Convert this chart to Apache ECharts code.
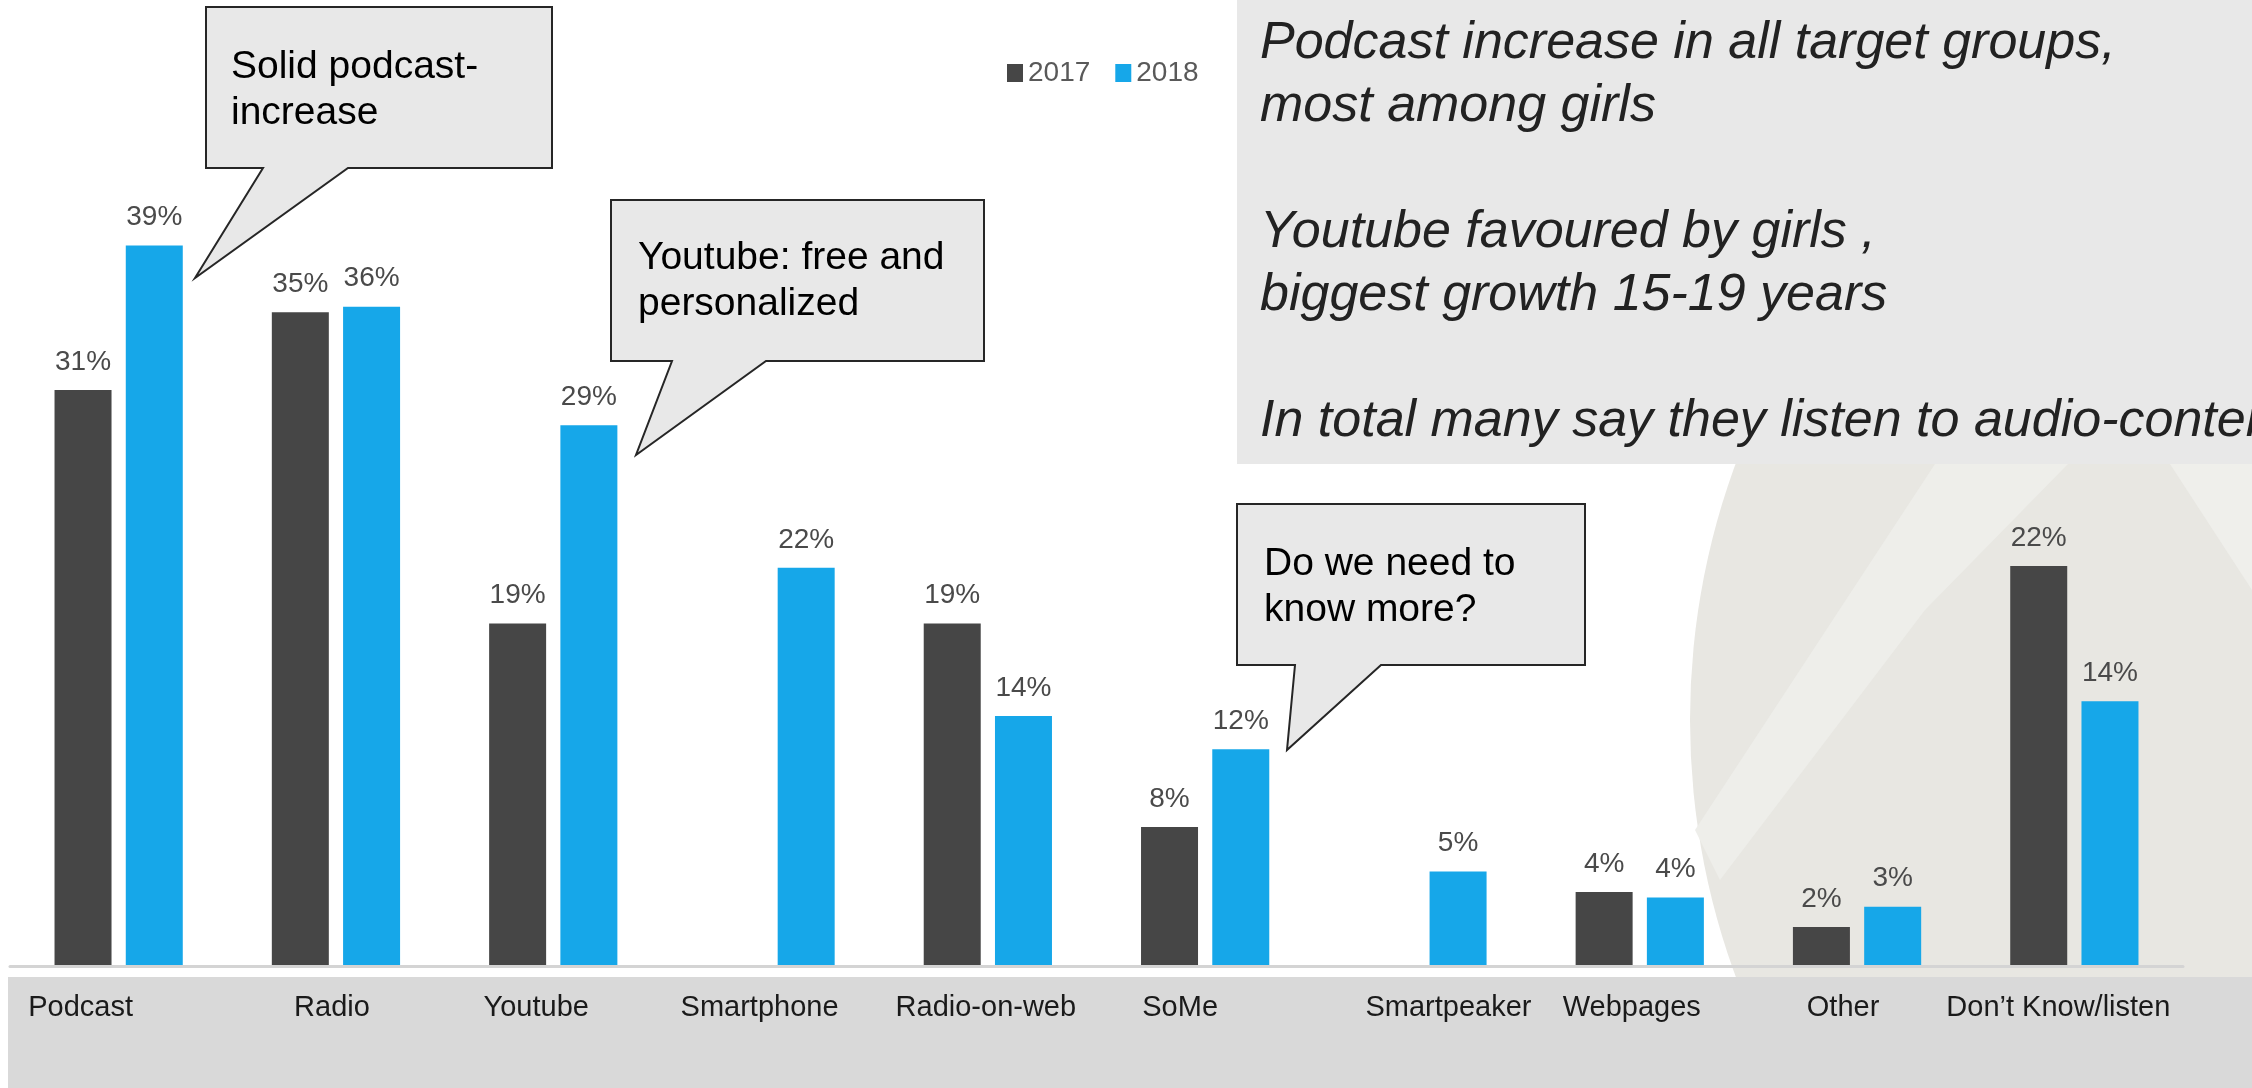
<!DOCTYPE html>
<html>
<head>
<meta charset="utf-8">
<script src="https://cdn.jsdelivr.net/npm/echarts@6/dist/echarts.min.js"></script>
<style>
  html, body { margin: 0; padding: 0; background: #ffffff; }
  #chart { width: 2252px; height: 1088px; }
</style>
</head>
<body>
<div id="chart"></div>
<script>
// ---- data ----
const categories = ['Podcast', 'Radio', 'Youtube', 'Smartphone', 'Radio-on-web', 'SoMe', 'Smartpeaker', 'Webpages', 'Other', 'Don\u2019t Know/listen'];
const seriesNames = ['2017', '2018'];
const values2017 = [31.1, 35.3, 18.5, null, 18.5, 7.5, null, 4.0, 2.1, 21.6];
const values2018 = [38.9, 35.6, 29.2, 21.5, 13.5, 11.7, 5.1, 3.7, 3.2, 14.3];
const panelLines = [
  'Podcast increase in all target groups,',
  'most among girls',
  '',
  'Youtube favoured by girls ,',
  'biggest growth 15-19 years',
  '',
  'In total many say they listen to audio-content'
];
const callouts = [
  'Solid podcast-\nincrease',
  'Youtube: free and\npersonalized',
  'Do we need to\nknow more?'
];

// ---- layout / style ----
const labelShift = [-38, -4, -17, -11, -2, -25, 26, -8, -14, -16];
const rich = {};
labelShift.forEach((d, i) => {
  rich['l' + i] = {
    fontFamily: 'Liberation Sans, Arial, sans-serif',
    fontSize: 29,
    color: '#1a1a1a',
    padding: d > 0 ? [0, 0, 0, 2 * d] : [0, -2 * d, 0, 0]
  };
});

const calloutStyle = { fill: '#e8e8e8', stroke: '#262626', lineWidth: 2 };
const calloutText = (text, x, y) => ({
  type: 'text', z: 11,
  style: {
    text: text, x: x, y: y,
    fontFamily: 'Liberation Sans, Arial, sans-serif', fontSize: 39, lineHeight: 46,
    fill: '#000000', verticalAlign: 'top', align: 'left'
  }
});

const chart = echarts.init(document.getElementById('chart'), null, { renderer: 'canvas' });
const dataLabel = {
  show: true, position: 'top', distance: 14,
  fontFamily: 'Liberation Sans, Arial, sans-serif', fontSize: 28, color: '#4a4a4a',
  formatter: p => (p.value == null ? '' : Math.round(p.value) + '%')
};

chart.setOption({
  animation: false,
  backgroundColor: '#ffffff',
  grid: { left: 10, right: 69, top: 40, bottom: 122, containLabel: false },
  legend: {
    data: seriesNames, left: 1002, top: 54, itemWidth: 16, itemHeight: 18, itemGap: 25,
    icon: 'rect', selectedMode: false,
    textStyle: { fontFamily: 'Liberation Sans, Arial, sans-serif', fontSize: 28, color: '#595959' }
  },
  xAxis: {
    type: 'category', data: categories,
    axisLine: { lineStyle: { color: '#d4d4d4', width: 3 } },
    axisTick: { show: false },
    axisLabel: {
      interval: 0, margin: 27,
      formatter: (v, i) => '{l' + i + '|' + v + '}',
      rich: rich
    },
    z: 5
  },
  yAxis: { type: 'value', min: 0, max: 50, show: false, splitLine: { show: false } },
  series: [
    { name: seriesNames[0], type: 'bar', data: values2017, barWidth: 57, barGap: '25%',
      itemStyle: { color: '#464646' }, label: dataLabel, z: 3 },
    { name: seriesNames[1], type: 'bar', data: values2018, barWidth: 57, barGap: '25%',
      itemStyle: { color: '#16a7e9' }, label: dataLabel, z: 3 }
  ],
  graphic: [
    // faint watermark shape
    { type: 'circle', z: -5, shape: { cx: 2433, cy: 720, r: 743 }, style: { fill: '#e8e7e2' } },
    { type: 'polygon', z: -4, shape: { points: [[1935, 464], [2068, 464], [1925, 610], [1720, 880], [1695, 830]] },
      style: { fill: '#eeeeea' } },
    { type: 'polygon', z: -4, shape: { points: [[2170, 464], [2252, 464], [2252, 590]] },
      style: { fill: '#efefeb' } },
    // grey band under axis
    { type: 'rect', z: -2, shape: { x: 8, y: 977, width: 2244, height: 111 }, style: { fill: '#d9d9d9' } },
    // right text panel
    { type: 'rect', z: -2, shape: { x: 1237, y: 0, width: 1015, height: 464 }, style: { fill: '#e8e8e8' } },
    { type: 'text', z: 6,
      style: {
        text: panelLines.join('\n'), x: 1260, y: 12,
        fontFamily: 'Liberation Sans, Arial, sans-serif', fontStyle: 'italic', fontSize: 52, lineHeight: 63,
        fill: '#222222', verticalAlign: 'top', align: 'left'
      } },
    // callouts
    { type: 'polygon', z: 10, shape: { points: [[206, 7], [552, 7], [552, 168], [348, 168], [195, 278], [263, 168], [206, 168]] }, style: calloutStyle },
    calloutText(callouts[0], 231, 44),
    { type: 'polygon', z: 10, shape: { points: [[611, 200], [984, 200], [984, 361], [766, 361], [636, 455], [672, 361], [611, 361]] }, style: calloutStyle },
    calloutText(callouts[1], 638, 235),
    { type: 'polygon', z: 10, shape: { points: [[1237, 504], [1585, 504], [1585, 665], [1381, 665], [1287, 750], [1295, 665], [1237, 665]] }, style: calloutStyle },
    calloutText(callouts[2], 1264, 541)
  ]
});
</script>
</body>
</html>
